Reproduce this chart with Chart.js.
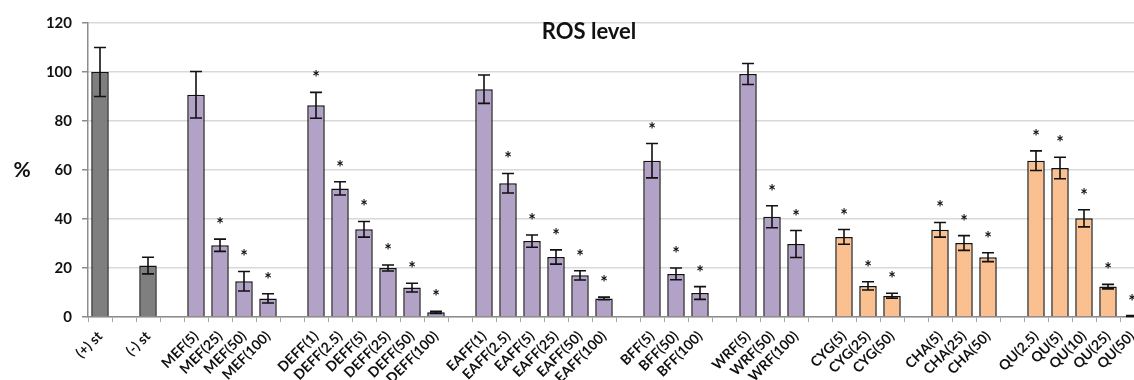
<!DOCTYPE html>
<html>
<head>
<meta charset="utf-8">
<script src="https://cdn.jsdelivr.net/npm/chart.js@4/dist/chart.umd.min.js"></script>
<style>
  html, body { margin: 0; padding: 0; background: #fff; overflow: hidden; }
  #wrap { width: 1150px; height: 380px; }
</style>
</head>
<body>
<div id="wrap"><canvas id="c" width="1150" height="380"></canvas></div>
<script>
// Categories ('' = spacer slot between groups)
const categories = [
  '(+) st', '', '(-) st', '',
  'MEF(5)', 'MEF(25)', 'MEF(50)', 'MEF(100)', '',
  'DEFF(1)', 'DEFF(2.5)', 'DEFF(5)', 'DEFF(25)', 'DEFF(50)', 'DEFF(100)', '',
  'EAFF(1)', 'EAFF(2.5)', 'EAFF(5)', 'EAFF(25)', 'EAFF(50)', 'EAFF(100)', '',
  'BFF(5)', 'BFF(50)', 'BFF(100)', '',
  'WRF(5)', 'WRF(50)', 'WRF(100)', '',
  'CYG(5)', 'CYG(25)', 'CYG(50)', '',
  'CHA(5)', 'CHA(25)', 'CHA(50)', '',
  'QU(2.5)', 'QU(5)', 'QU(10)', 'QU(25)', 'QU(50)'
];

// ROS level, % of positive standard
const rosLevel = [
  100, null, 21, null,
  90.7, 29.3, 14.6, 7.6, null,
  86.4, 52.5, 35.8, 20, 12, 1.9, null,
  93, 54.6, 31, 24.5, 17, 7.6, null,
  63.8, 17.6, 9.8, null,
  99.2, 40.9, 29.8, null,
  32.7, 12.7, 8.7, null,
  35.6, 30.2, 24.4, null,
  63.8, 60.8, 40.3, 12.4, 0.4
];

// Standard deviation
const rosError = [
  10, null, 3.4, null,
  9.5, 2.5, 4, 1.9, null,
  5.3, 2.7, 3.2, 1.2, 1.8, 0.4, null,
  5.8, 4, 2.5, 2.9, 1.9, 0.5, null,
  7, 2.4, 2.6, null,
  4.3, 4.5, 5.5, null,
  3, 1.7, 1, null,
  3, 3, 1.8, null,
  4, 4.4, 3.5, 0.9, 0.2
];

// Significance marks
const significance = [
  '', '', '', '',
  '', '*', '*', '*', '',
  '*', '*', '*', '*', '*', '*', '',
  '', '*', '*', '*', '*', '*', '',
  '*', '*', '*', '',
  '', '*', '*', '',
  '*', '*', '*', '',
  '*', '*', '*', '',
  '*', '*', '*', '*', '*'
];

// Sample type per slot
const sampleType = [
  'std', 'std', 'std', 'std',
  'ext', 'ext', 'ext', 'ext', 'ext',
  'ext', 'ext', 'ext', 'ext', 'ext', 'ext', 'ext',
  'ext', 'ext', 'ext', 'ext', 'ext', 'ext', 'ext',
  'ext', 'ext', 'ext', 'ext',
  'ext', 'ext', 'ext', 'ext',
  'cmp', 'cmp', 'cmp', 'cmp',
  'cmp', 'cmp', 'cmp', 'cmp',
  'cmp', 'cmp', 'cmp', 'cmp', 'cmp'
];

const yTicks = [0, 20, 40, 60, 80, 100, 120];

const typeColor = { std: '#7f7f7f', ext: '#b3a2c7', cmp: '#fac090' };
const FONT = 'Lato, "Open Sans", "Liberation Sans", sans-serif';

// Error bars and significance asterisks
const errorBarPlugin = {
  id: 'errorBars',
  afterDatasetsDraw(chart) {
    const ctx = chart.ctx;
    const y = chart.scales.y;
    const meta = chart.getDatasetMeta(0);
    ctx.save();
    meta.data.forEach((bar, i) => {
      const v = rosLevel[i];
      if (v === null) return;
      const e = rosError[i] || 0;
      const x = bar.x;
      const yTop = y.getPixelForValue(v + e);
      const yBot = y.getPixelForValue(Math.max(v - e, 0));
      ctx.strokeStyle = '#111';
      ctx.lineWidth = 1.6;
      ctx.beginPath();
      ctx.moveTo(x, yTop); ctx.lineTo(x, yBot);
      ctx.moveTo(x - 6, yTop); ctx.lineTo(x + 6, yTop);
      ctx.moveTo(x - 6, yBot); ctx.lineTo(x + 6, yBot);
      ctx.stroke();
      if (significance[i]) {
        ctx.fillStyle = '#111';
        ctx.font = 'bold 18px ' + FONT;
        ctx.textAlign = 'center';
        ctx.textBaseline = 'alphabetic';
        ctx.fillText(significance[i], x, yTop - 8);
      }
    });
    ctx.restore();
  }
};

// Chart title inside the plot area and the horizontal unit label
const labelsPlugin = {
  id: 'labels',
  afterDraw(chart) {
    const ctx = chart.ctx;
    const a = chart.chartArea;
    ctx.save();
    ctx.fillStyle = '#111';
    ctx.textAlign = 'center';
    ctx.textBaseline = 'middle';
    ctx.font = 'bold 22px ' + FONT;
    ctx.fillText('ROS level', a.left + (a.right - a.left) * 0.4745, a.top + 9);
    ctx.font = 'bold 21px ' + FONT;
    ctx.fillText('%', 22, (a.top + a.bottom) / 2);
    ctx.restore();
  }
};

new Chart(document.getElementById('c'), {
  type: 'bar',
  data: {
    labels: categories,
    datasets: [{
      data: rosLevel,
      backgroundColor: ctx => typeColor[sampleType[ctx.dataIndex]],
      borderColor: '#111',
      borderWidth: 1.5,
      borderSkipped: 'bottom',
      categoryPercentage: 1,
      barPercentage: 0.73
    }]
  },
  options: {
    responsive: false,
    animation: false,
    layout: { padding: { top: 23, right: 6, left: 0, bottom: 0 } },
    plugins: {
      legend: { display: false },
      tooltip: { enabled: false },
      title: { display: false }
    },
    scales: {
      x: {
        offset: true,
        grid: {
          display: true,
          drawOnChartArea: false,
          offset: true,
          tickLength: 5,
          tickColor: '#a6a6a6'
        },
        border: { color: '#8c8c8c', width: 1.5 },
        ticks: {
          autoSkip: false,
          minRotation: 45,
          maxRotation: 45,
          padding: 6,
          color: '#111',
          font: { family: FONT, size: 14, weight: 'bold' }
        },
        afterFit(scale) { scale.height = 63; }
      },
      y: {
        min: 0,
        max: 120,
        afterBuildTicks(scale) { scale.ticks = yTicks.map(v => ({ value: v })); },
        grid: {
          color: '#d9d9d9',
          lineWidth: 1.5,
          tickLength: 6,
          tickColor: '#8c8c8c'
        },
        border: { color: '#8c8c8c', width: 1.5 },
        ticks: {
          padding: 10,
          color: '#111',
          font: { family: FONT, size: 15, weight: 'bold' }
        },
        afterFit(scale) { scale.width = 88; }
      }
    }
  },
  plugins: [errorBarPlugin, labelsPlugin]
});
</script>
</body>
</html>
